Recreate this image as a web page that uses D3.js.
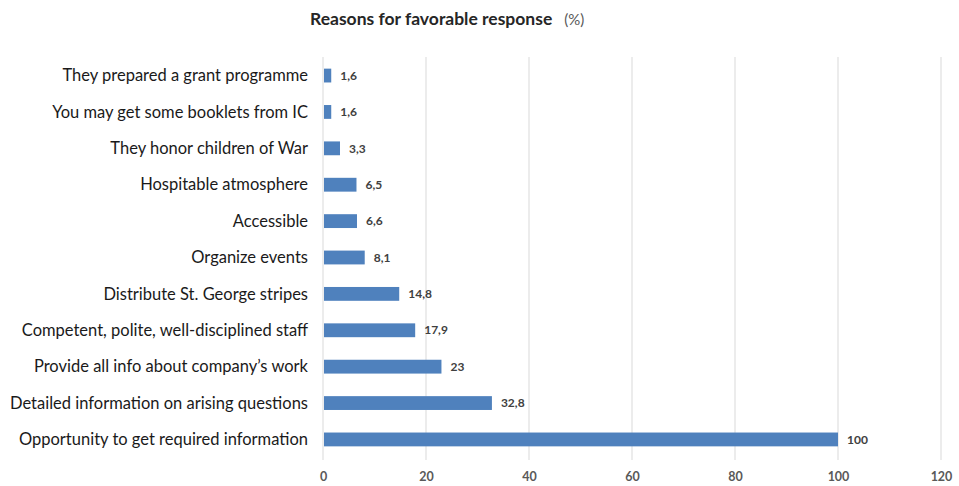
<html>
  <head>
    <meta charset="utf-8" />
    <title>Reasons for favorable response</title>
    <style>
      body { margin: 0; background: #fff; }
      text { font-family: Lato, "Open Sans", sans-serif; }
    </style>
  </head>
  <body>
    <script src="https://cdn.jsdelivr.net/npm/d3@7/dist/d3.min.js"></script>
    <script>
      const width = 959;
      const height = 486;

      // top to bottom
      const categories = [
        "They prepared a grant programme",
        "You may get some booklets from IC",
        "They honor children of War",
        "Hospitable atmosphere",
        "Accessible",
        "Organize events",
        "Distribute St. George stripes",
        "Competent, polite, well-disciplined staff",
        "Provide all info about company’s work",
        "Detailed information on arising questions",
        "Opportunity to get required information"
      ];
      const values = [1.6, 1.6, 3.3, 6.5, 6.6, 8.1, 14.8, 17.9, 23, 32.8, 100];
      const ticks = [0, 20, 40, 60, 80, 100, 120];

      const margin = { top: 57, right: 18, bottom: 28, left: 323 };

      const svg = d3
        .select("body")
        .append("svg")
        .attr("width", width)
        .attr("height", height);

      const x = d3
        .scaleLinear()
        .domain([0, 120])
        .range([margin.left, 941]);

      const y = d3
        .scaleBand()
        .domain(categories)
        .range([margin.top, 458])
        .paddingInner(0.62)
        .paddingOuter(0.32);

      // gridlines
      svg
        .append("g")
        .selectAll("line")
        .data(ticks)
        .join("line")
        .attr("x1", d => x(d))
        .attr("x2", d => x(d))
        .attr("y1", margin.top)
        .attr("y2", 460)
        .attr("stroke", "#d9d9d9")
        .attr("stroke-width", 1);

      // x tick labels
      const xAxis = d3.axisBottom(x).tickValues(ticks).tickSize(0).tickPadding(0);
      const gx = svg
        .append("g")
        .attr("transform", "translate(0,472)")
        .call(xAxis);
      gx.select(".domain").remove();
      gx.selectAll("text")
        .attr("font-size", 12.5)
        .attr("font-weight", "bold")
        .attr("fill", "#595959")
        .attr("font-family", "Lato, sans-serif");

      // bars
      svg
        .append("g")
        .selectAll("rect")
        .data(values)
        .join("rect")
        .attr("x", x(0) + 1)
        .attr("y", (d, i) => y(categories[i]))
        .attr("width", d => x(d) - x(0) - 1)
        .attr("height", y.bandwidth())
        .attr("fill", "#4f81bd");

      // value labels
      svg
        .append("g")
        .selectAll("text")
        .data(values)
        .join("text")
        .attr("x", d => x(d) + 9)
        .attr("y", (d, i) => y(categories[i]) + y.bandwidth() / 2)
        .attr("dy", "0.35em")
        .attr("font-size", 12)
        .attr("font-weight", "bold")
        .attr("fill", "#404040")
        .text(d => String(d).replace(".", ","));

      // category labels
      svg
        .append("g")
        .selectAll("text")
        .data(categories)
        .join("text")
        .attr("x", 308)
        .attr("y", d => y(d) + y.bandwidth() / 2)
        .attr("dy", "0.35em")
        .attr("text-anchor", "end")
        .attr("font-size", 16.5)
        .attr("fill", "#1a1a1a")
        .text(d => d);

      // title
      const title = svg
        .append("text")
        .attr("x", 310)
        .attr("y", 25)
        .attr("font-size", 17.5)
        .attr("font-weight", "bold")
        .attr("fill", "#262626");
      title.append("tspan").text("Reasons for favorable response");
      title
        .append("tspan")
        .attr("dx", 12)
        .attr("font-weight", "normal")
        .attr("font-size", 15)
        .attr("fill", "#595959")
        .text("(%)");
    </script>
  </body>
</html>
